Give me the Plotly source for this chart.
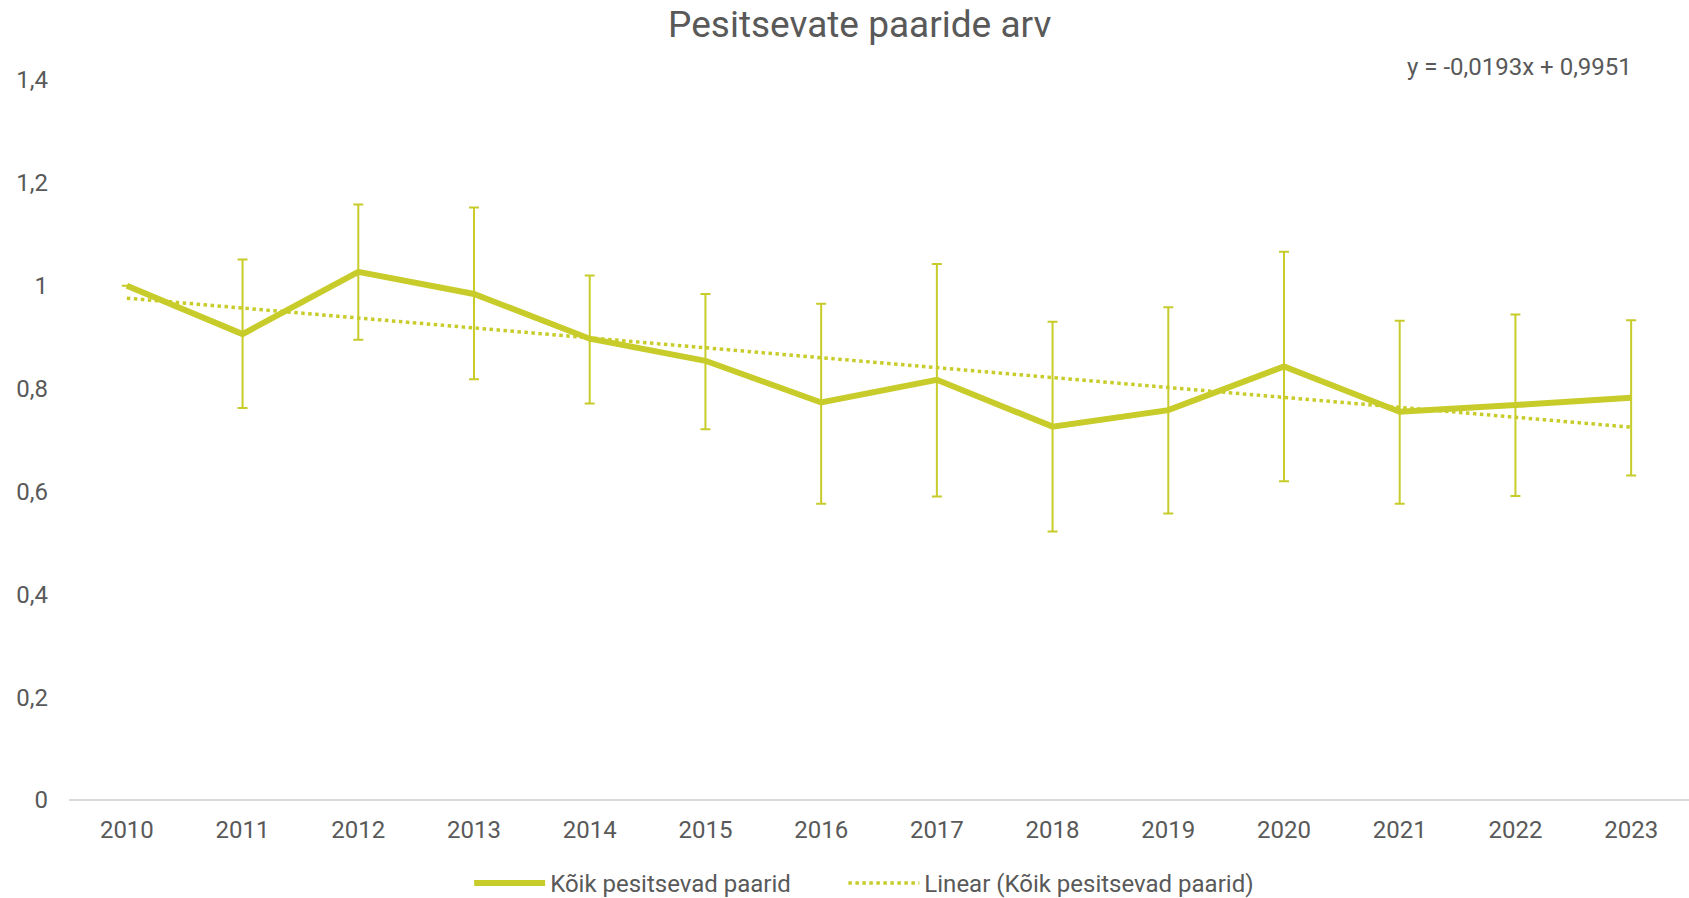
import plotly.graph_objects as go

years = ['2010', '2011', '2012', '2013', '2014', '2015', '2016',
         '2017', '2018', '2019', '2020', '2021', '2022', '2023']
pairs = [1.000, 0.906, 1.027, 0.984, 0.897, 0.854, 0.773,
         0.817, 0.726, 0.758, 0.843, 0.755, 0.768, 0.782]
err_upper = [None, 1.051, 1.158, 1.152, 1.020, 0.984, 0.965,
             1.042, 0.930, 0.958, 1.066, 0.932, 0.944, 0.933]
err_lower = [None, 0.762, 0.895, 0.818, 0.771, 0.721, 0.576,
             0.590, 0.522, 0.557, 0.620, 0.576, 0.591, 0.631]
trend_slope = -0.0193
trend_intercept = 0.9951

color = '#c8cc2a'
text_color = '#595959'
font_family = 'Roboto'

plus = [0 if u is None else u - v for u, v in zip(err_upper, pairs)]
minus = [0 if l is None else v - l for l, v in zip(err_lower, pairs)]
trend = [trend_slope * (i + 1) + trend_intercept for i in range(len(years))]

fig = go.Figure()

fig.add_trace(go.Scatter(
    x=years,
    y=pairs,
    name='Kõik pesitsevad paarid',
    mode='lines',
    line=dict(color=color, width=6),
    error_y=dict(
        type='data',
        symmetric=False,
        array=plus,
        arrayminus=minus,
        color=color,
        thickness=2,
        width=5
    ),
    showlegend=True,
    legend='legend'
))

fig.add_trace(go.Scatter(
    x=years,
    y=trend,
    name='Linear (Kõik pesitsevad paarid)',
    mode='lines',
    line=dict(color=color, width=3.5, dash='dot'),
    showlegend=True,
    legend='legend2'
))

fig.add_annotation(
    text='y = -0,0193x + 0,9951',
    xref='paper', yref='paper',
    x=0.966, y=1.0,
    xanchor='right', yanchor='bottom',
    yshift=-3,
    showarrow=False,
    font=dict(size=24, color=text_color, family=font_family)
)

legend_style = dict(
    orientation='h',
    xanchor='left',
    y=-0.116, yanchor='middle',
    font=dict(size=24, color=text_color),
    itemwidth=71,
    bgcolor='rgba(0,0,0,0)'
)

fig.update_layout(
    title=dict(
        text='Pesitsevate paaride arv',
        x=0.509, xanchor='center',
        y=0.973, yanchor='middle',
        font=dict(size=37, color=text_color, family=font_family)
    ),
    showlegend=True,
    separators=', ',
    width=1689,
    height=898,
    margin=dict(l=69, r=0, t=80, b=98, autoexpand=False),
    plot_bgcolor='white',
    paper_bgcolor='white',
    font=dict(family=font_family, size=24, color=text_color),
    xaxis=dict(
        type='category',
        range=[-0.5, 13.5],
        automargin=False,
        showgrid=False,
        showline=False,
        ticks='',
        ticklabelstandoff=13,
        tickfont=dict(size=24, color=text_color)
    ),
    yaxis=dict(
        range=[0, 1.4],
        automargin=False,
        tickvals=[0, 0.2, 0.4, 0.6, 0.8, 1.0, 1.2, 1.4],
        showgrid=False,
        zeroline=True,
        zerolinecolor='#d9d9d9',
        zerolinewidth=2,
        showline=False,
        ticks='',
        ticklabelstandoff=20,
        tickfont=dict(size=24, color=text_color)
    ),
    legend=dict(x=0.247, **legend_style),
    legend2=dict(x=0.478, **legend_style)
)

# the page body has a default 8px margin; remove it so the chart sits at 0,0
fig.write_html("out.html", config={'displayModeBar': False},
               post_script="document.body.style.margin='0';")
